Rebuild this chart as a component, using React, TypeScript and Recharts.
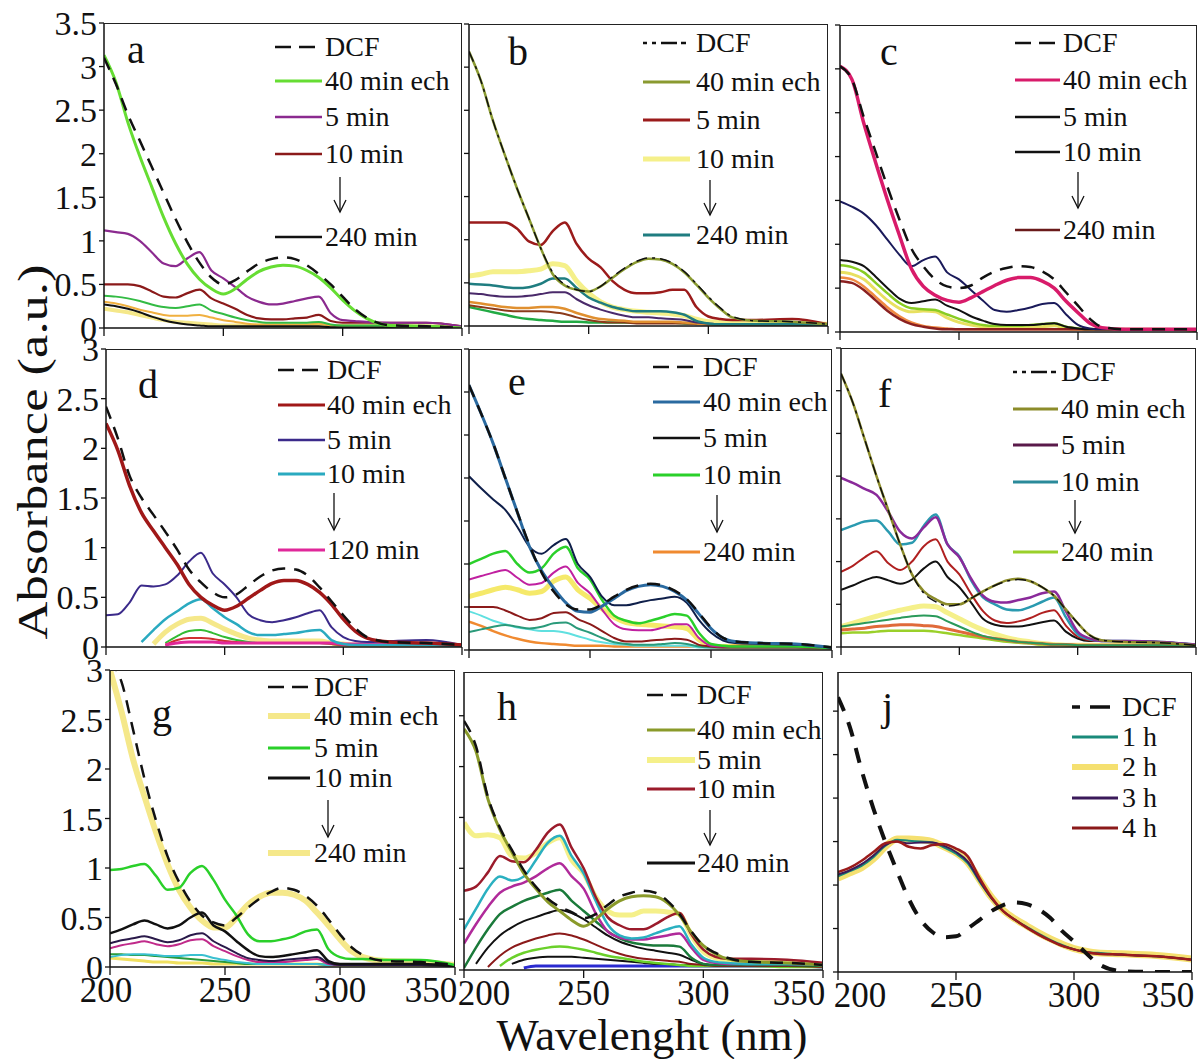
import React from 'react';
import { LineChart, Line, XAxis, YAxis } from 'recharts';

const FONT = '"Liberation Serif", "Times New Roman", serif';

// wavelength grid (nm)
const wl = [200, 205, 210, 215, 220, 225, 230, 235, 240, 245, 250, 255, 260, 265, 270, 275, 280, 285, 290, 295, 300, 305, 310, 320, 335, 350];
const xTicks = [200, 250, 300, 350];

// panel a
const aDCF = [3.1, 2.8, 2.45, 2.15, 1.85, 1.55, 1.25, 0.98, 0.75, 0.58, 0.5, 0.55, 0.65, 0.74, 0.79, 0.81, 0.79, 0.72, 0.62, 0.5, 0.36, 0.22, 0.12, 0.03, 0.02, 0.0];
const a40 = [3.13, 2.82, 2.36, 1.97, 1.62, 1.27, 0.97, 0.73, 0.56, 0.45, 0.39, 0.45, 0.56, 0.65, 0.7, 0.72, 0.71, 0.66, 0.58, 0.46, 0.32, 0.2, 0.11, 0.03, 0.02, 0.0];
const a5 = [1.12, 1.1, 1.08, 1.0, 0.87, 0.74, 0.71, 0.8, 0.87, 0.66, 0.57, 0.47, 0.36, 0.3, 0.27, 0.28, 0.31, 0.34, 0.36, 0.17, 0.09, 0.08, 0.07, 0.06, 0.06, 0.02];
const a10 = [0.5, 0.5, 0.5, 0.48, 0.42, 0.36, 0.35, 0.4, 0.44, 0.34, 0.28, 0.22, 0.15, 0.11, 0.1, 0.1, 0.11, 0.12, 0.15, 0.08, 0.06, 0.06, 0.06, 0.06, 0.06, 0.02];
const aG = [0.37, 0.36, 0.34, 0.31, 0.27, 0.24, 0.23, 0.25, 0.27, 0.2, 0.16, 0.12, 0.09, 0.07, 0.06, 0.06, 0.06, 0.06, 0.07, 0.04, 0.03, 0.03, 0.03, 0.03, 0.02, 0.01];
const aY = [0.3, 0.28, 0.25, 0.21, 0.18, 0.15, 0.14, 0.14, 0.15, 0.12, 0.09, 0.07, 0.05, 0.04, 0.04, 0.04, 0.04, 0.04, 0.05, 0.03, 0.03, 0.03, 0.03, 0.03, 0.02, 0.01];
const aL = [0.22, 0.2, 0.18, 0.15, 0.12, 0.09, 0.07, 0.06, 0.05, 0.04, 0.03, 0.03, 0.03, 0.03, 0.03, 0.03, 0.03, 0.03, 0.03, 0.02, 0.02, 0.02, 0.02, 0.02, 0.02, 0.01];
const a240 = [0.27, 0.25, 0.22, 0.18, 0.13, 0.09, 0.06, 0.04, 0.03, 0.02, 0.02, 0.02, 0.02, 0.02, 0.02, 0.02, 0.02, 0.02, 0.02, 0.01, 0.01, 0.01, 0.01, 0.01, 0.01, 0.01];

// panel b
const bDCF = [3.18, 2.84, 2.38, 1.98, 1.6, 1.25, 0.9, 0.62, 0.48, 0.42, 0.4, 0.46, 0.57, 0.67, 0.75, 0.79, 0.78, 0.73, 0.63, 0.49, 0.34, 0.21, 0.11, 0.06, 0.05, 0.02];
const b40 = [3.18, 2.84, 2.38, 1.98, 1.6, 1.25, 0.9, 0.6, 0.47, 0.42, 0.4, 0.46, 0.56, 0.66, 0.74, 0.78, 0.77, 0.72, 0.62, 0.48, 0.33, 0.2, 0.1, 0.06, 0.05, 0.02];
const b5 = [1.2, 1.2, 1.2, 1.2, 1.13, 0.98, 0.94, 1.1, 1.2, 0.95, 0.78, 0.68, 0.52, 0.42, 0.38, 0.38, 0.39, 0.42, 0.42, 0.22, 0.11, 0.08, 0.07, 0.07, 0.08, 0.02];
const b10 = [0.58, 0.6, 0.63, 0.63, 0.63, 0.64, 0.66, 0.72, 0.7, 0.52, 0.38, 0.28, 0.22, 0.19, 0.17, 0.16, 0.15, 0.14, 0.12, 0.08, 0.05, 0.04, 0.03, 0.03, 0.03, 0.02];
const bT = [0.49, 0.48, 0.47, 0.45, 0.44, 0.45, 0.49, 0.55, 0.55, 0.44, 0.33, 0.27, 0.22, 0.19, 0.17, 0.17, 0.17, 0.16, 0.13, 0.06, 0.03, 0.02, 0.02, 0.02, 0.02, 0.01];
const bP = [0.38, 0.37, 0.35, 0.34, 0.34, 0.35, 0.37, 0.39, 0.39, 0.31, 0.24, 0.19, 0.15, 0.12, 0.1, 0.1, 0.09, 0.08, 0.07, 0.04, 0.03, 0.02, 0.02, 0.02, 0.02, 0.01];
const bO = [0.28, 0.26, 0.24, 0.22, 0.21, 0.21, 0.22, 0.22, 0.2, 0.15, 0.11, 0.08, 0.07, 0.06, 0.05, 0.05, 0.05, 0.05, 0.04, 0.03, 0.02, 0.02, 0.02, 0.02, 0.02, 0.01];
const bR = [0.24, 0.22, 0.2, 0.18, 0.17, 0.17, 0.17, 0.16, 0.14, 0.1, 0.07, 0.05, 0.04, 0.04, 0.03, 0.03, 0.03, 0.03, 0.03, 0.02, 0.02, 0.02, 0.02, 0.02, 0.02, 0.01];
const bG = [0.22, 0.19, 0.16, 0.13, 0.1, 0.08, 0.07, 0.06, 0.05, 0.05, 0.04, 0.04, 0.04, 0.04, 0.04, 0.04, 0.04, 0.04, 0.03, 0.03, 0.02, 0.02, 0.02, 0.02, 0.02, 0.01];

// panel c
const cDCF = [3.03, 2.88, 2.45, 2.05, 1.65, 1.28, 0.95, 0.75, 0.6, 0.52, 0.5, 0.53, 0.62, 0.69, 0.73, 0.75, 0.74, 0.69, 0.6, 0.45, 0.3, 0.15, 0.06, 0.03, 0.03, 0.03];
const c40 = [3.03, 2.88, 2.38, 1.93, 1.5, 1.1, 0.72, 0.52, 0.42, 0.36, 0.34, 0.39, 0.46, 0.53, 0.59, 0.62, 0.62, 0.58, 0.5, 0.35, 0.22, 0.1, 0.05, 0.03, 0.03, 0.03];
const c5 = [1.49, 1.43, 1.35, 1.22, 1.05, 0.88, 0.75, 0.82, 0.86, 0.68, 0.6, 0.48, 0.36, 0.25, 0.23, 0.25, 0.28, 0.32, 0.33, 0.2, 0.08, 0.04, 0.03, 0.03, 0.03, 0.02];
const c10 = [0.82, 0.8, 0.75, 0.63, 0.5, 0.38, 0.33, 0.35, 0.37, 0.3, 0.25, 0.18, 0.13, 0.09, 0.08, 0.08, 0.08, 0.09, 0.1, 0.06, 0.04, 0.03, 0.03, 0.03, 0.03, 0.02];
const cG = [0.76, 0.74, 0.68, 0.56, 0.44, 0.33, 0.27, 0.26, 0.25, 0.2, 0.15, 0.11, 0.08, 0.07, 0.07, 0.07, 0.08, 0.09, 0.1, 0.06, 0.04, 0.03, 0.03, 0.03, 0.03, 0.02];
const cY = [0.68, 0.66, 0.6, 0.48, 0.36, 0.27, 0.23, 0.24, 0.23, 0.16, 0.11, 0.08, 0.06, 0.05, 0.05, 0.05, 0.06, 0.06, 0.07, 0.04, 0.03, 0.03, 0.03, 0.03, 0.03, 0.02];
const cO = [0.62, 0.6, 0.52, 0.4, 0.28, 0.18, 0.11, 0.07, 0.05, 0.04, 0.03, 0.03, 0.03, 0.03, 0.03, 0.03, 0.03, 0.03, 0.03, 0.03, 0.03, 0.03, 0.03, 0.03, 0.03, 0.02];
const c240 = [0.58, 0.56, 0.48, 0.36, 0.24, 0.15, 0.09, 0.06, 0.04, 0.03, 0.03, 0.03, 0.03, 0.03, 0.03, 0.03, 0.03, 0.03, 0.03, 0.03, 0.03, 0.03, 0.03, 0.03, 0.03, 0.02];

// panel d
const dDCF = [2.42, 2.1, 1.72, 1.5, 1.33, 1.16, 0.98, 0.78, 0.65, 0.55, 0.5, 0.53, 0.62, 0.71, 0.77, 0.79, 0.78, 0.72, 0.6, 0.46, 0.32, 0.19, 0.1, 0.05, 0.04, 0.02];
const d40 = [2.25, 1.98, 1.62, 1.35, 1.17, 1.0, 0.83, 0.63, 0.5, 0.42, 0.37, 0.41, 0.49, 0.57, 0.64, 0.67, 0.67, 0.63, 0.55, 0.43, 0.28, 0.16, 0.09, 0.05, 0.04, 0.02];
const d5 = [0.32, 0.33, 0.45, 0.62, 0.61, 0.63, 0.72, 0.86, 0.95, 0.74, 0.63, 0.5, 0.33, 0.27, 0.25, 0.27, 0.3, 0.34, 0.37, 0.2, 0.1, 0.06, 0.05, 0.06, 0.07, 0.02];
const d10 = [null, null, null, 0.05, 0.17, 0.28, 0.36, 0.44, 0.48, 0.39, 0.3, 0.23, 0.15, 0.12, 0.12, 0.13, 0.14, 0.16, 0.17, 0.07, 0.03, 0.02, 0.02, 0.02, 0.02, 0.01];
const dY = [null, null, null, null, 0.03, 0.15, 0.23, 0.28, 0.29, 0.24, 0.18, 0.13, 0.09, 0.07, 0.06, 0.06, 0.06, 0.06, 0.06, 0.04, 0.03, 0.02, 0.02, 0.02, 0.02, 0.01];
const dG = [null, null, null, null, null, 0.04, 0.11, 0.16, 0.17, 0.14, 0.1, 0.07, 0.05, 0.04, 0.04, 0.04, 0.04, 0.04, 0.04, 0.03, 0.02, 0.02, 0.02, 0.02, 0.02, 0.01];
const dR = [null, null, null, null, null, 0.02, 0.07, 0.09, 0.09, 0.08, 0.06, 0.05, 0.04, 0.04, 0.04, 0.04, 0.04, 0.04, 0.04, 0.03, 0.02, 0.02, 0.02, 0.02, 0.02, 0.01];
const dM = [null, null, null, null, null, 0.02, 0.04, 0.05, 0.05, 0.05, 0.04, 0.04, 0.04, 0.04, 0.04, 0.04, 0.04, 0.04, 0.04, 0.04, 0.03, 0.03, 0.03, 0.03, 0.03, 0.02];

// panel e
const eDCF = [3.08, 2.75, 2.4, 2.0, 1.6, 1.22, 0.9, 0.68, 0.53, 0.47, 0.47, 0.53, 0.62, 0.7, 0.75, 0.77, 0.75, 0.69, 0.59, 0.43, 0.26, 0.14, 0.1, 0.08, 0.07, 0.03];
const e40 = [3.08, 2.75, 2.4, 2.0, 1.6, 1.2, 0.92, 0.72, 0.55, 0.45, 0.44, 0.51, 0.6, 0.69, 0.74, 0.76, 0.74, 0.68, 0.58, 0.42, 0.25, 0.14, 0.1, 0.08, 0.07, 0.03];
const e5 = [2.02, 1.88, 1.75, 1.63, 1.43, 1.2, 1.12, 1.22, 1.29, 1.0, 0.85, 0.62, 0.52, 0.52, 0.55, 0.58, 0.6, 0.62, 0.55, 0.35, 0.2, 0.11, 0.08, 0.07, 0.06, 0.03];
const e10 = [1.0, 1.06, 1.12, 1.15, 1.0, 0.9, 0.95, 1.12, 1.2, 0.95, 0.82, 0.58, 0.4, 0.34, 0.31, 0.34, 0.38, 0.42, 0.4, 0.2, 0.07, 0.05, 0.04, 0.04, 0.04, 0.02];
const eM = [0.82, 0.86, 0.9, 0.93, 0.84, 0.76, 0.78, 0.9, 0.97, 0.78, 0.66, 0.47, 0.3, 0.24, 0.23, 0.23, 0.26, 0.3, 0.3, 0.14, 0.05, 0.04, 0.04, 0.04, 0.04, 0.02];
const eY = [0.62, 0.66, 0.7, 0.73, 0.7, 0.66, 0.68, 0.8, 0.85, 0.7, 0.6, 0.48, 0.38, 0.32, 0.3, 0.29, 0.28, 0.27, 0.25, 0.12, 0.05, 0.04, 0.04, 0.04, 0.04, 0.02];
const eR = [0.5, 0.5, 0.5, 0.46, 0.4, 0.35, 0.37, 0.43, 0.44, 0.36, 0.3, 0.22, 0.14, 0.1, 0.1, 0.11, 0.12, 0.13, 0.12, 0.06, 0.04, 0.03, 0.03, 0.03, 0.03, 0.02];
const eT = [0.21, 0.24, 0.27, 0.29, 0.27, 0.25, 0.27, 0.31, 0.32, 0.25, 0.2, 0.14, 0.09, 0.07, 0.06, 0.06, 0.07, 0.08, 0.07, 0.04, 0.03, 0.03, 0.03, 0.03, 0.03, 0.02];
const eC = [0.45, 0.4, 0.34, 0.3, 0.26, 0.24, 0.22, 0.22, 0.2, 0.16, 0.12, 0.09, 0.07, 0.06, 0.05, 0.05, 0.05, 0.05, 0.05, 0.03, 0.03, 0.03, 0.03, 0.03, 0.03, 0.02];
const eO = [0.33, 0.28, 0.22, 0.17, 0.13, 0.1, 0.08, 0.07, 0.06, 0.05, 0.05, 0.05, 0.04, 0.04, 0.04, 0.04, 0.04, 0.04, 0.04, 0.04, 0.04, 0.04, 0.05, 0.05, 0.06, 0.02];

// panel f
const fDCF = [3.2, 2.86, 2.43, 2.0, 1.6, 1.2, 0.85, 0.63, 0.53, 0.48, 0.5, 0.57, 0.65, 0.72, 0.77, 0.79, 0.77, 0.7, 0.6, 0.44, 0.28, 0.14, 0.08, 0.06, 0.05, 0.02];
const f40 = [3.2, 2.86, 2.43, 2.0, 1.6, 1.2, 0.85, 0.65, 0.56, 0.5, 0.5, 0.57, 0.65, 0.72, 0.78, 0.8, 0.77, 0.7, 0.6, 0.44, 0.28, 0.14, 0.08, 0.06, 0.05, 0.02];
const f5 = [1.98, 1.92, 1.85, 1.78, 1.58, 1.35, 1.27, 1.4, 1.52, 1.2, 1.05, 0.8, 0.6, 0.53, 0.52, 0.55, 0.58, 0.63, 0.65, 0.42, 0.18, 0.1, 0.07, 0.07, 0.06, 0.03];
const f10 = [1.37, 1.42, 1.47, 1.48, 1.35, 1.2, 1.22, 1.42, 1.55, 1.2, 1.06, 0.78, 0.58, 0.5, 0.44, 0.43, 0.47, 0.53, 0.58, 0.35, 0.15, 0.09, 0.07, 0.07, 0.06, 0.03];
const fR = [0.88, 0.95, 1.05, 1.12, 0.98, 0.9, 1.0, 1.18, 1.26, 1.0, 0.85, 0.62, 0.42, 0.31, 0.28, 0.3, 0.34, 0.4, 0.43, 0.25, 0.12, 0.08, 0.07, 0.07, 0.06, 0.03];
const fK = [0.67, 0.72, 0.78, 0.82, 0.78, 0.74, 0.79, 0.92, 1.0, 0.82, 0.7, 0.52, 0.33, 0.26, 0.24, 0.24, 0.26, 0.29, 0.31, 0.18, 0.1, 0.07, 0.07, 0.07, 0.06, 0.03];
const fY = [0.24, 0.28, 0.32, 0.36, 0.4, 0.43, 0.46, 0.48, 0.47, 0.4, 0.33, 0.26, 0.2, 0.15, 0.11, 0.08, 0.06, 0.04, 0.03, 0.02, 0.02, 0.02, 0.02, 0.02, 0.02, 0.01];
const fG = [0.24, 0.26, 0.28, 0.3, 0.32, 0.34, 0.36, 0.37, 0.36, 0.3, 0.24, 0.18, 0.13, 0.1, 0.08, 0.06, 0.05, 0.04, 0.03, 0.03, 0.02, 0.02, 0.02, 0.02, 0.02, 0.01];
const fO = [0.2, 0.21, 0.22, 0.24, 0.25, 0.26, 0.26, 0.25, 0.24, 0.21, 0.18, 0.15, 0.12, 0.1, 0.08, 0.06, 0.05, 0.04, 0.03, 0.03, 0.02, 0.02, 0.02, 0.02, 0.02, 0.01];
const fL = [0.16, 0.17, 0.17, 0.18, 0.19, 0.19, 0.19, 0.19, 0.18, 0.16, 0.14, 0.12, 0.1, 0.08, 0.06, 0.05, 0.04, 0.03, 0.03, 0.02, 0.02, 0.02, 0.02, 0.02, 0.02, 0.01];

// panel g
const gDCF = [3.1, 2.88, 2.4, 1.9, 1.48, 1.12, 0.86, 0.66, 0.52, 0.45, 0.42, 0.5, 0.6, 0.69, 0.76, 0.8, 0.78, 0.72, 0.62, 0.48, 0.33, 0.2, 0.12, 0.06, 0.05, 0.02];
const g40 = [3.0, 2.58, 2.1, 1.72, 1.36, 1.04, 0.78, 0.6, 0.47, 0.4, 0.4, 0.5, 0.63, 0.71, 0.75, 0.75, 0.73, 0.67, 0.55, 0.42, 0.28, 0.16, 0.1, 0.06, 0.05, 0.02];
const g5 = [0.98, 0.99, 1.02, 1.04, 0.92, 0.78, 0.8, 0.95, 1.02, 0.88, 0.68, 0.52, 0.33, 0.26, 0.26, 0.28, 0.31, 0.36, 0.38, 0.18, 0.1, 0.08, 0.08, 0.07, 0.07, 0.02];
const g10 = [0.34, 0.38, 0.43, 0.47, 0.43, 0.39, 0.42, 0.5, 0.55, 0.42, 0.36, 0.26, 0.17, 0.11, 0.1, 0.11, 0.13, 0.15, 0.17, 0.06, 0.03, 0.03, 0.03, 0.03, 0.03, 0.01];
const gK = [0.24, 0.27, 0.29, 0.31, 0.28, 0.25, 0.27, 0.32, 0.34, 0.26, 0.2, 0.14, 0.09, 0.07, 0.06, 0.07, 0.08, 0.09, 0.1, 0.04, 0.02, 0.02, 0.02, 0.02, 0.02, 0.01];
const gP = [0.19, 0.22, 0.24, 0.26, 0.23, 0.21, 0.23, 0.27, 0.28, 0.21, 0.16, 0.11, 0.07, 0.05, 0.05, 0.05, 0.06, 0.07, 0.08, 0.03, 0.02, 0.02, 0.02, 0.02, 0.02, 0.01];
const gC = [0.1, 0.12, 0.13, 0.13, 0.12, 0.11, 0.11, 0.12, 0.12, 0.09, 0.07, 0.05, 0.04, 0.03, 0.03, 0.03, 0.03, 0.03, 0.03, 0.02, 0.02, 0.02, 0.02, 0.02, 0.02, 0.01];
const gG = [0.13, 0.13, 0.12, 0.12, 0.11, 0.1, 0.09, 0.08, 0.07, 0.06, 0.05, 0.04, 0.03, 0.03, 0.03, 0.03, 0.03, 0.03, 0.03, 0.02, 0.02, 0.02, 0.02, 0.02, 0.02, 0.01];
const gY = [0.09, 0.08, 0.07, 0.06, 0.05, 0.05, 0.04, 0.04, 0.04, 0.03, 0.03, 0.03, 0.03, 0.03, 0.03, 0.03, 0.03, 0.03, 0.03, 0.02, 0.02, 0.02, 0.02, 0.02, 0.02, 0.01];

// panel h
const hDCF = [2.45, 2.2, 1.7, 1.4, 1.18, 0.98, 0.82, 0.7, 0.62, 0.57, 0.51, 0.55, 0.64, 0.72, 0.76, 0.78, 0.76, 0.68, 0.55, 0.38, 0.24, 0.17, 0.12, 0.08, 0.07, 0.05];
const h40 = [2.37, 2.15, 1.68, 1.38, 1.16, 0.95, 0.8, 0.67, 0.58, 0.49, 0.43, 0.5, 0.6, 0.68, 0.72, 0.73, 0.72, 0.66, 0.54, 0.37, 0.24, 0.16, 0.11, 0.08, 0.07, 0.05];
const h5 = [1.45, 1.32, 1.33, 1.3, 1.12, 1.1, 1.15, 1.25, 1.3, 1.08, 0.95, 0.72, 0.58, 0.54, 0.54, 0.58, 0.58, 0.57, 0.55, 0.34, 0.18, 0.12, 0.1, 0.09, 0.08, 0.05];
const h10 = [0.78, 0.82, 0.96, 1.12, 1.07, 1.06, 1.18, 1.35, 1.43, 1.2, 1.0, 0.72, 0.52, 0.44, 0.4, 0.4, 0.45, 0.52, 0.56, 0.35, 0.2, 0.13, 0.11, 0.11, 0.1, 0.07];
const hC = [0.4, 0.6, 0.8, 0.92, 0.88, 0.92, 1.08, 1.25, 1.32, 1.12, 0.95, 0.68, 0.45, 0.34, 0.31, 0.32, 0.36, 0.4, 0.43, 0.25, 0.12, 0.08, 0.07, 0.06, 0.06, 0.05];
const hM = [0.26, 0.45, 0.62, 0.76, 0.82, 0.86, 0.92, 1.0, 1.05, 0.92, 0.8, 0.56, 0.38, 0.32, 0.3, 0.3, 0.32, 0.34, 0.36, 0.22, 0.1, 0.07, 0.06, 0.06, 0.06, 0.05];
const hG = [0.02, 0.22, 0.4, 0.55, 0.62, 0.68, 0.72, 0.76, 0.79, 0.68, 0.58, 0.48, 0.38, 0.31, 0.27, 0.25, 0.24, 0.24, 0.23, 0.12, 0.06, 0.05, 0.05, 0.05, 0.05, 0.04];
const hK = [null, 0.06, 0.22, 0.34, 0.42, 0.48, 0.52, 0.56, 0.59, 0.56, 0.5, 0.42, 0.34, 0.28, 0.24, 0.21, 0.19, 0.17, 0.15, 0.1, 0.06, 0.05, 0.05, 0.05, 0.05, 0.04];
const hR = [null, null, 0.03, 0.14, 0.22, 0.27, 0.31, 0.34, 0.36, 0.34, 0.3, 0.25, 0.2, 0.16, 0.13, 0.11, 0.1, 0.09, 0.08, 0.06, 0.05, 0.04, 0.04, 0.04, 0.04, 0.03];
const hL = [null, null, null, 0.04, 0.12, 0.17, 0.2, 0.22, 0.23, 0.22, 0.2, 0.17, 0.14, 0.12, 0.1, 0.08, 0.07, 0.06, 0.05, 0.04, 0.04, 0.04, 0.04, 0.04, 0.03, 0.03];
const hK2 = [null, null, null, null, 0.06, 0.1, 0.12, 0.13, 0.13, 0.13, 0.12, 0.11, 0.1, 0.09, 0.08, 0.07, 0.06, 0.06, 0.05, 0.05, 0.04, 0.04, 0.04, 0.04, 0.04, 0.03];
const hB = [null, null, null, null, null, 0.02, 0.04, 0.04, 0.04, 0.04, 0.04, 0.04, 0.04, 0.04, 0.04, 0.04, 0.04, 0.04, 0.04, 0.04, 0.04, 0.04, 0.04, 0.04, 0.04, 0.03];

// panel j
const jDCF = [3.16, 2.82, 2.32, 1.88, 1.5, 1.16, 0.84, 0.6, 0.46, 0.4, 0.41, 0.5, 0.6, 0.7, 0.77, 0.8, 0.78, 0.72, 0.62, 0.47, 0.35, 0.22, 0.1, 0.01, 0.0, 0.0];
const j1 = [1.1, 1.16, 1.22, 1.32, 1.45, 1.52, 1.51, 1.5, 1.49, 1.43, 1.36, 1.25, 1.04, 0.85, 0.7, 0.6, 0.52, 0.44, 0.37, 0.31, 0.26, 0.23, 0.22, 0.2, 0.18, 0.14];
const j2 = [1.08, 1.14, 1.2, 1.3, 1.44, 1.53, 1.53, 1.52, 1.5, 1.44, 1.37, 1.26, 1.06, 0.86, 0.71, 0.61, 0.53, 0.45, 0.38, 0.32, 0.27, 0.24, 0.22, 0.21, 0.19, 0.15];
const j3 = [1.12, 1.17, 1.24, 1.34, 1.46, 1.5, 1.48, 1.49, 1.49, 1.45, 1.38, 1.27, 1.05, 0.85, 0.7, 0.6, 0.51, 0.43, 0.36, 0.3, 0.26, 0.23, 0.21, 0.2, 0.18, 0.14];
const j4 = [1.15, 1.2, 1.28, 1.38, 1.48, 1.5, 1.44, 1.42, 1.46, 1.47, 1.42, 1.33, 1.08, 0.86, 0.7, 0.6, 0.51, 0.43, 0.36, 0.3, 0.26, 0.23, 0.21, 0.2, 0.18, 0.14];

const labels = ['DCF', '40 min ech', '5 min', '10 min', '240 min'];
const labelsD = ['DCF', '40 min ech', '5 min', '10 min', '120 min'];
const labelsJ = ['DCF', '1 h', '2 h', '3 h', '4 h'];

const ticks35 = [0, 0.5, 1, 1.5, 2, 2.5, 3, 3.5];
const ticks3 = [0, 0.5, 1, 1.5, 2, 2.5, 3];
const ticks25 = [0, 0.5, 1, 1.5, 2, 2.5];

const DASH = '13 9';
const DASHDOT = '11 5 3 5';
const K = '#111';

type S = { v: (number | null)[]; c: string; w: number; d?: string };
type Leg = { c: string; w: number; d?: string };
type P = {
  id: string; L: number; R: number; T: number; B: number; yMax: number; yTicks: number[];
  showY: boolean; showX: boolean; firstShift: number; series: S[]; names: string[]; legend: Leg[];
  lx0: number; lx1: number; tx: number; ly: number[]; arrow?: number[]; letter: number[];
};

const panels: P[] = [
  {
    id: 'a', L: 104, R: 462, T: 23, B: 328, yMax: 3.5, yTicks: ticks35, showY: true, showX: false, firstShift: 0,
    series: [
      { v: aL, c: '#f5e88a', w: 4 }, { v: aY, c: '#f0b040', w: 2 }, { v: a240, c: K, w: 2 },
      { v: aG, c: '#33bb44', w: 2 }, { v: a10, c: '#8b1a1a', w: 2.2 }, { v: a5, c: '#8b2a8f', w: 2.2 },
      { v: a40, c: '#66dd33', w: 3 }, { v: aDCF, c: K, w: 2.5, d: DASH },
    ],
    names: labels,
    legend: [{ c: K, w: 2.5, d: '16 8' }, { c: '#66dd33', w: 3 }, { c: '#8b2a8f', w: 2.5 }, { c: '#8b1a1a', w: 2.5 }, { c: K, w: 2.5 }],
    lx0: 275, lx1: 322, tx: 325, ly: [47, 81, 117, 154, 237], arrow: [340, 177, 212], letter: [127, 63],
  },
  {
    id: 'b', L: 469, R: 828, T: 24, B: 326, yMax: 3.5, yTicks: ticks35, showY: false, showX: false, firstShift: 0,
    series: [
      { v: b10, c: '#f5f08a', w: 5 }, { v: bG, c: '#22aa44', w: 2.5 }, { v: bR, c: '#8b3a1a', w: 2 },
      { v: bO, c: '#e09030', w: 2.5 }, { v: bP, c: '#4a2a6a', w: 2 }, { v: bT, c: '#1f7d80', w: 2.5 },
      { v: b5, c: '#9b1b1b', w: 2.5 }, { v: b40, c: '#8a9a30', w: 2.5 }, { v: bDCF, c: K, w: 1.5, d: DASHDOT },
    ],
    names: labels,
    legend: [{ c: K, w: 2.5, d: '4 5 4 5 16' }, { c: '#8a9a30', w: 3 }, { c: '#9b1b1b', w: 3 }, { c: '#f5f08a', w: 5 }, { c: '#1f7d80', w: 3 }],
    lx0: 643, lx1: 690, tx: 696, ly: [43, 82, 120, 159, 235], arrow: [710, 180, 215], letter: [508, 65],
  },
  {
    id: 'c', L: 840, R: 1197, T: 25, B: 332, yMax: 3.5, yTicks: ticks35, showY: false, showX: false, firstShift: 0,
    series: [
      { v: cY, c: '#e8e060', w: 3 }, { v: cG, c: '#88cc22', w: 2.5 }, { v: cO, c: '#f08a40', w: 2.5 },
      { v: c240, c: '#8b2020', w: 2.5 }, { v: c10, c: K, w: 2 }, { v: c5, c: '#1a1a5a', w: 2 },
      { v: c40, c: '#d81b6a', w: 3.5 }, { v: cDCF, c: K, w: 2.5, d: DASH },
    ],
    names: labels,
    legend: [{ c: K, w: 2.5, d: '16 8' }, { c: '#d81b6a', w: 3 }, { c: K, w: 2.5 }, { c: K, w: 2.5 }, { c: '#6a1a1a', w: 2.5 }],
    lx0: 1015, lx1: 1060, tx: 1063, ly: [43, 80, 117, 152, 230], arrow: [1078, 172, 208], letter: [880, 65],
  },
  {
    id: 'd', L: 106, R: 462, T: 349, B: 647, yMax: 3, yTicks: ticks3, showY: true, showX: false, firstShift: 0,
    series: [
      { v: dY, c: '#f5e88a', w: 5 }, { v: dG, c: '#33bb33', w: 2 }, { v: dR, c: '#d03030', w: 2 },
      { v: dM, c: '#e0289a', w: 3 }, { v: d10, c: '#2aaac0', w: 2.5 }, { v: d5, c: '#3b2a8a', w: 2 },
      { v: d40, c: '#a01818', w: 3.5 }, { v: dDCF, c: K, w: 2.5, d: DASH },
    ],
    names: labelsD,
    legend: [{ c: K, w: 2.5, d: '16 8' }, { c: '#a01818', w: 3 }, { c: '#3b2a8a', w: 2.5 }, { c: '#2aaac0', w: 3 }, { c: '#e0289a', w: 3 }],
    lx0: 278, lx1: 325, tx: 327, ly: [370, 405, 440, 474, 550], arrow: [334, 493, 530], letter: [138, 398],
  },
  {
    id: 'e', L: 469, R: 832, T: 349, B: 650, yMax: 3.5, yTicks: ticks35, showY: false, showX: false, firstShift: 0,
    series: [
      { v: eY, c: '#f5e96a', w: 5 }, { v: eO, c: '#f08a30', w: 2.5 }, { v: eC, c: '#60e0e0', w: 2 },
      { v: eT, c: '#2a9a7a', w: 2 }, { v: eR, c: '#8b1a1a', w: 2 }, { v: eM, c: '#c020a0', w: 2 },
      { v: e10, c: '#2ad02a', w: 2.5 }, { v: e5, c: '#0f1f4a', w: 2 },
      { v: e40, c: '#2a6aa0', w: 3 }, { v: eDCF, c: K, w: 2.5, d: DASH },
    ],
    names: labels,
    legend: [{ c: K, w: 2.5, d: '16 8' }, { c: '#2a6aa0', w: 3 }, { c: K, w: 2.5 }, { c: '#2ad02a', w: 3 }, { c: '#f08a30', w: 3 }],
    lx0: 653, lx1: 700, tx: 703, ly: [367, 402, 438, 475, 552], arrow: [717, 495, 532], letter: [508, 395],
  },
  {
    id: 'f', L: 841, R: 1196, T: 348, B: 647, yMax: 3.5, yTicks: ticks35, showY: false, showX: false, firstShift: 0,
    series: [
      { v: fY, c: '#f5f08a', w: 5 }, { v: fL, c: '#9ad02a', w: 2.5 }, { v: fO, c: '#e06a3a', w: 3 },
      { v: fG, c: '#2a9a5a', w: 2 }, { v: fK, c: K, w: 2 }, { v: fR, c: '#b02020', w: 2 },
      { v: f10, c: '#2a9ab0', w: 2.5 }, { v: f5, c: '#8a2a9a', w: 2.5 },
      { v: f40, c: '#8c8c2a', w: 2.5 }, { v: fDCF, c: K, w: 1.5, d: DASHDOT },
    ],
    names: labels,
    legend: [{ c: K, w: 2.5, d: '4 5 4 5 16' }, { c: '#8c8c2a', w: 3 }, { c: '#5a1a4a', w: 3 }, { c: '#2a8a9a', w: 3 }, { c: '#9ad02a', w: 3 }],
    lx0: 1013, lx1: 1058, tx: 1061, ly: [372, 409, 445, 482, 552], arrow: [1075, 500, 533], letter: [878, 407],
  },
  {
    id: 'g', L: 110, R: 455, T: 670, B: 967, yMax: 3, yTicks: ticks3, showY: true, showX: true, firstShift: -4,
    series: [
      { v: g40, c: '#f5e88a', w: 6 }, { v: gY, c: '#f0e060', w: 3 }, { v: gG, c: '#2a9a3a', w: 2 },
      { v: gC, c: '#3ac0d0', w: 2 }, { v: gP, c: '#c02a8a', w: 2 }, { v: gK, c: '#2a1a4a', w: 2 },
      { v: g10, c: K, w: 2.5 }, { v: g5, c: '#2ad02a', w: 2.5 }, { v: gDCF, c: K, w: 2.5, d: DASH },
    ],
    names: labels,
    legend: [{ c: K, w: 2.5, d: '16 8' }, { c: '#f5e88a', w: 6 }, { c: '#2ad02a', w: 3 }, { c: K, w: 3 }, { c: '#f5e88a', w: 6 }],
    lx0: 268, lx1: 310, tx: 314, ly: [687, 716, 748, 778, 853], arrow: [328, 800, 837], letter: [152, 727],
  },
  {
    id: 'h', L: 464, R: 823, T: 672, B: 970, yMax: 2.93, yTicks: ticks25, showY: false, showX: true, firstShift: 20,
    series: [
      { v: h5, c: '#f5f08a', w: 5 }, { v: hB, c: '#2a2ad0', w: 3 }, { v: hK2, c: K, w: 2 },
      { v: hL, c: '#6ad02a', w: 2.5 }, { v: hR, c: '#8b1a1a', w: 2 }, { v: hK, c: K, w: 2 },
      { v: hG, c: '#1a7a3a', w: 2.5 }, { v: hM, c: '#b02a9a', w: 2.5 }, { v: hC, c: '#2ab0c0', w: 2.5 },
      { v: h10, c: '#9b1b2b', w: 2.5 }, { v: h40, c: '#8a9a2a', w: 3 }, { v: hDCF, c: K, w: 2.5, d: DASH },
    ],
    names: labels,
    legend: [{ c: K, w: 2.5, d: '16 8' }, { c: '#8a9a2a', w: 3 }, { c: '#f5f08a', w: 6 }, { c: '#9b1b2b', w: 3 }, { c: K, w: 3 }],
    lx0: 647, lx1: 695, tx: 697, ly: [695, 730, 760, 789, 863], arrow: [710, 810, 845], letter: [497, 720],
  },
  {
    id: 'j', L: 838, R: 1192, T: 672, B: 972, yMax: 3.45, yTicks: ticks3, showY: false, showX: true, firstShift: 22,
    series: [
      { v: j2, c: '#f5e070', w: 7 }, { v: j1, c: '#1a8a7a', w: 2 }, { v: j3, c: '#3a1a5a', w: 2 },
      { v: j4, c: '#9b1b1b', w: 2.5 }, { v: jDCF, c: K, w: 4, d: '15 12' },
    ],
    names: labelsJ,
    legend: [{ c: K, w: 3.5, d: '8 10 20' }, { c: '#1a8a7a', w: 3 }, { c: '#f5e070', w: 6 }, { c: '#3a1a5a', w: 3 }, { c: '#8b1a1a', w: 3 }],
    lx0: 1072, lx1: 1118, tx: 1122, ly: [707, 737, 767, 798, 828], letter: [882, 720],
  },
];

function Panel({ p }: { p: P }) {
  const yw = p.showY ? 70 : 8;
  const xh = p.showX ? 50 : 10;
  const mt = 20;
  const mr = 12;
  const w = p.R - p.L + yw + mr;
  const h = p.B - p.T + xh + mt;
  const data = wl.map((nm, i) => {
    const row: Record<string, number | null> = { nm };
    p.series.forEach((s, k) => { row['s' + k] = s.v[i]; });
    return row;
  });
  const tickTxt = { fontSize: 34, fontFamily: FONT, fill: '#111' };
  // first and last x labels sit inside the panel, as in the figure
  const xTick = (props: any) => {
    const { x, y, payload } = props;
    if (!p.showX) return <g />;
    const v = payload.value;
    let dx = 0;
    if (v === 200) dx = p.firstShift;
    if (v === 350) dx = -24;
    return (
      <text x={x + dx} y={y} dy="0.71em" textAnchor="middle" fontSize={35} fontFamily={FONT} fill="#111">{v}</text>
    );
  };
  return (
    <>
      <div style={{ position: 'absolute', left: p.L - yw, top: p.T - mt }}>
        <LineChart width={w} height={h} data={data} margin={{ top: mt, right: mr, bottom: 0, left: 0 }}>
          <XAxis dataKey="nm" type="number" domain={[200, 350]} ticks={xTicks} interval={0} allowDataOverflow
            height={xh} tickSize={8} tickMargin={2}
            axisLine={{ stroke: '#111', strokeWidth: 1.5 }} tickLine={{ stroke: '#111', strokeWidth: 1.3 }}
            tick={xTick} />
          <YAxis type="number" domain={[0, p.yMax]} ticks={p.yTicks} interval={0} allowDataOverflow
            width={yw} tickSize={5} tickMargin={2}
            axisLine={{ stroke: '#111', strokeWidth: 1.5 }} tickLine={{ stroke: '#111', strokeWidth: 1.3 }}
            tick={tickTxt} tickFormatter={p.showY ? undefined : () => ''} />
          {p.series.map((s, k) => (
            <Line key={k} dataKey={'s' + k} type="monotone" stroke={s.c} strokeWidth={s.w}
              strokeDasharray={s.d} dot={false} activeDot={false} isAnimationActive={false} />
          ))}
        </LineChart>
      </div>
      <div style={{
        position: 'absolute', left: p.L, top: p.T, width: p.R - p.L, height: p.B - p.T,
        borderTop: '1.5px solid #222', borderRight: '1.5px solid #222', boxSizing: 'border-box', pointerEvents: 'none',
      }} />
    </>
  );
}

function LegendBlock({ p }: { p: P }) {
  return (
    <g>
      <text x={p.letter[0]} y={p.letter[1]} fontSize={40} fontFamily={FONT} fill="#111">{p.id}</text>
      {p.legend.map((l, i) => (
        <g key={i}>
          <line x1={p.lx0} x2={p.lx1} y1={p.ly[i]} y2={p.ly[i]} stroke={l.c} strokeWidth={l.w} strokeDasharray={l.d} />
          <text x={p.tx} y={p.ly[i] + 9} fontSize={28} fontFamily={FONT} fill="#111">{p.names[i]}</text>
        </g>
      ))}
      {p.arrow && (
        <g stroke="#111" strokeWidth={1.3} fill="none">
          <line x1={p.arrow[0]} x2={p.arrow[0]} y1={p.arrow[1]} y2={p.arrow[2]} />
          <polyline points={`${p.arrow[0] - 6},${p.arrow[2] - 12} ${p.arrow[0]},${p.arrow[2]} ${p.arrow[0] + 6},${p.arrow[2] - 12}`} />
        </g>
      )}
    </g>
  );
}

export default function App() {
  return (
    <div style={{ position: 'absolute', left: 0, top: 0, width: 1202, height: 1059, background: '#fff', fontFamily: FONT }}>
      <style>{'.recharts-surface{overflow:visible}'}</style>
      {panels.map((p) => <Panel key={p.id} p={p} />)}
      <svg width={1202} height={1059} style={{ position: 'absolute', left: 0, top: 0, pointerEvents: 'none', overflow: 'visible' }}>
        {panels.map((p) => <LegendBlock key={p.id} p={p} />)}
        <text x={652} y={1050} textAnchor="middle" fontSize={44} textLength={311} lengthAdjust="spacingAndGlyphs"
          fontFamily={FONT} fill="#111">Wavelenght (nm)</text>
        <text transform="translate(47,452) rotate(-90)" textAnchor="middle" fontSize={43} textLength={375}
          lengthAdjust="spacingAndGlyphs" fontFamily={FONT} fill="#111">Absorbance (a.u.)</text>
      </svg>
    </div>
  );
}
